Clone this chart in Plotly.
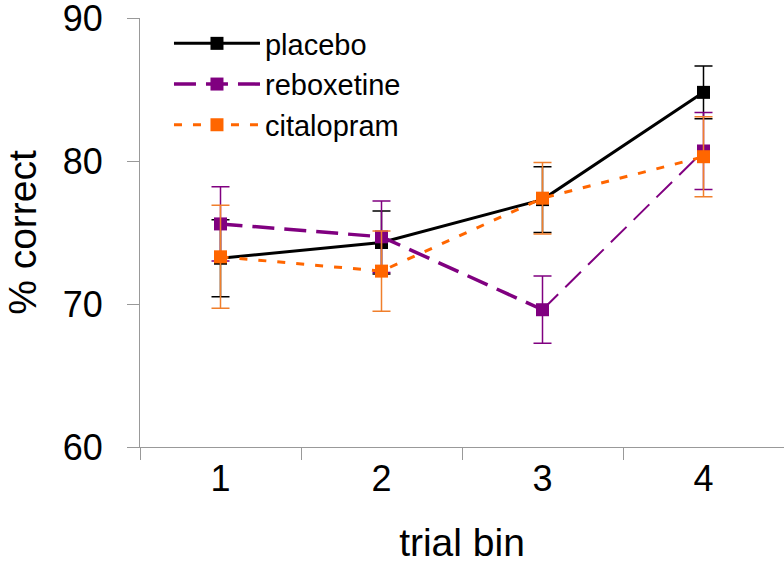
import plotly.graph_objects as go

# 데이터
bins = ["1", "2", "3", "4"]
placebo = [73.2, 74.3, 77.3, 84.8]
placebo_err = [2.7, 2.2, 2.3, 1.85]
reboxetine = [75.6, 74.7, 69.6, 80.7]
reboxetine_err = [2.6, 2.5, 2.35, 2.7]
citalopram = [73.3, 72.3, 77.4, 80.3]
citalopram_err = [3.6, 2.8, 2.5, 2.8]

FONT = "Liberation Sans, Arial, sans-serif"

fig = go.Figure()

# placebo (검정 실선)
fig.add_trace(go.Scatter(
    x=bins, y=placebo, name="placebo", mode="lines+markers",
    line=dict(color="black", width=3),
    marker=dict(symbol="square", size=13, color="black"),
    error_y=dict(type="data", array=placebo_err, color="black", thickness=1.5, width=9),
))

# reboxetine (보라 파선) - 3~4 구간은 얇은 선
fig.add_trace(go.Scatter(
    x=bins[2:], y=reboxetine[2:], mode="lines", showlegend=False, hoverinfo="skip",
    line=dict(color="#800080", width=2, dash="22px,10px"),
))
fig.add_trace(go.Scatter(
    x=bins[:3], y=reboxetine[:3], name="reboxetine", mode="lines+markers",
    line=dict(color="#800080", width=3.5, dash="22px,10px"),
    marker=dict(symbol="square", size=13, color="#800080"),
    error_y=dict(type="data", array=reboxetine_err[:3], color="#800080", thickness=1.5, width=9),
))
fig.add_trace(go.Scatter(
    x=bins[3:], y=reboxetine[3:], mode="markers", showlegend=False,
    marker=dict(symbol="square", size=13, color="#800080"),
    error_y=dict(type="data", array=reboxetine_err[3:], color="#800080", thickness=1.5, width=9),
))

# citalopram (주황 점선)
fig.add_trace(go.Scatter(
    x=bins, y=citalopram, name="citalopram", mode="lines+markers",
    line=dict(color="#ff6600", width=3, dash="8px,11px"),
    marker=dict(symbol="square", size=13, color="#ff6600"),
    error_y=dict(type="data", array=citalopram_err, color="#f07f2c", thickness=1.5, width=9),
))

fig.update_layout(
    width=784, height=572,
    margin=dict(l=140, r=0, t=18, b=125),
    plot_bgcolor="white", paper_bgcolor="white",
    font=dict(family=FONT, size=36, color="black"),
    showlegend=True,
    legend=dict(
        x=0.045, y=1.0, xanchor="left", yanchor="top",
        bgcolor="rgba(0,0,0,0)", font=dict(size=29),
        tracegroupgap=0, itemwidth=86,
    ),
    xaxis=dict(
        type="category", range=[-0.5, 3.5], automargin=False,
        showline=True, linecolor="#999999", linewidth=1,
        ticks="outside", tickson="boundaries", ticklen=12, tickcolor="#999999",
        showgrid=False, zeroline=False,
        tickfont=dict(size=36), ticklabeloverflow="allow",
        title=dict(text="trial bin", font=dict(size=39), standoff=30),
    ),
    yaxis=dict(
        range=[60, 90], tickvals=[60, 70, 80, 90], automargin=False,
        showline=True, linecolor="#999999", linewidth=1,
        ticks="outside", ticklen=12, tickcolor="#999999",
        showgrid=False, zeroline=False,
        tickfont=dict(size=36), ticklabelstandoff=17, ticklabeloverflow="allow",
        title=dict(text="% correct", font=dict(size=39), standoff=14),
    ),
)

# 페이지 기본 여백 제거, 모드바 숨김
fig.write_html("out.html", config={"displayModeBar": False},
               post_script="document.body.style.margin='0';")
